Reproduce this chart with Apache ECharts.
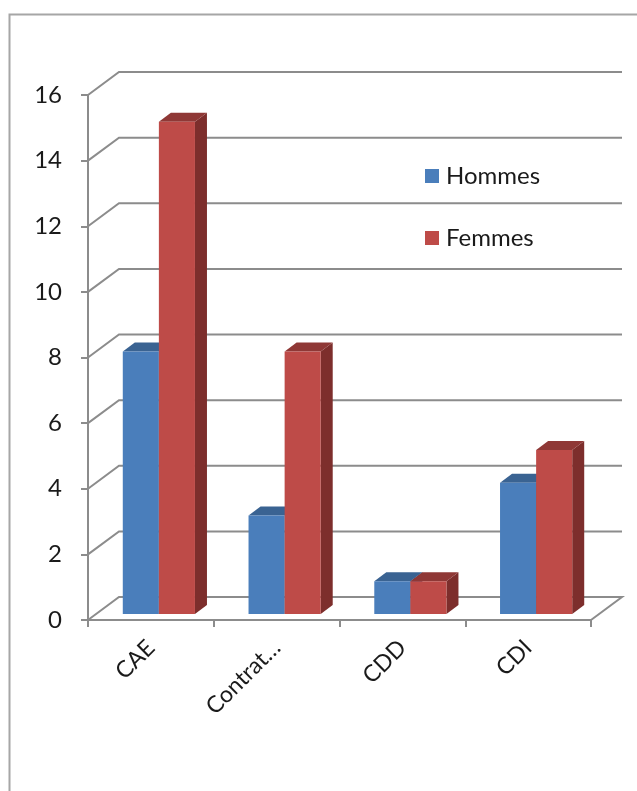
<!DOCTYPE html>
<html><head><meta charset="utf-8">
<script src="https://cdn.jsdelivr.net/npm/echarts@6/dist/echarts.min.js"></script>
<style>html,body{margin:0;padding:0;background:#fff}#c{width:637px;height:791px}</style>
</head><body><div id="c"></div>
<script>
const categories = ['CAE', 'Contrat…', 'CDD', 'CDI'];
const hommes = [8, 3, 1, 4];
const femmes = [15, 8, 1, 5];
const yTicks = [0, 2, 4, 6, 8, 10, 12, 14, 16];
const seriesNames = ['Hommes', 'Femmes'];

const DEPTH_X = 31, DEPTH_Y = 23;
const BAR_SHIFT_X = 8, BAR_SHIFT_Y = 6;
const BAR_DX = 12, BAR_DY = 9;
const GRID_COLOR = '#8c8c8c';
const FONT = 'Lato, "Open Sans", sans-serif';
const COLORS = [
  {front: '#4A7EBB', top: '#3A6392', side: '#2D4F77'},
  {front: '#BE4B48', top: '#8F3836', side: '#7D2E2C'}
];

function wallsRender(params, api) {
  const cs = params.coordSys;
  const v = api.value(1);
  const y = api.coord([0, v])[1];
  const x0 = cs.x, x1 = cs.x + cs.width;
  const pts = [[x0, y], [x0 + DEPTH_X, y - DEPTH_Y], [x1 + DEPTH_X, y - DEPTH_Y]];
  if (v === 0) pts.push([x1, y]);
  return {type: 'polyline', shape: {points: pts}, style: {stroke: GRID_COLOR, lineWidth: 2, fill: null}};
}

function barRender(side) {
  const c = COLORS[side];
  return function (params, api) {
    const i = api.value(0), v = api.value(1);
    const base = api.coord([i, 0]);
    const top = api.coord([i, v]);
    const bw = api.size([1, 0])[0] * 0.287;
    const cx = base[0] + BAR_SHIFT_X;
    const xl = side === 0 ? cx - bw : cx;
    const xr = xl + bw;
    const yb = base[1] - BAR_SHIFT_Y, yt = top[1] - BAR_SHIFT_Y;
    return {type: 'group', children: [
      {type: 'polygon', shape: {points: [[xr, yb], [xr + BAR_DX, yb - BAR_DY], [xr + BAR_DX, yt - BAR_DY], [xr, yt]]}, style: {fill: c.side}},
      {type: 'polygon', shape: {points: [[xl, yt], [xl + BAR_DX, yt - BAR_DY], [xr + BAR_DX, yt - BAR_DY], [xr, yt]]}, style: {fill: c.top}},
      {type: 'rect', shape: {x: xl, y: yt, width: bw, height: yb - yt}, style: {fill: c.front}}
    ]};
  };
}

const chart = echarts.init(document.getElementById('c'), null, {renderer: 'canvas'});
chart.setOption({
  animation: false,
  backgroundColor: '#fff',
  graphic: [{type: 'rect', left: 7, top: 12, shape: {width: 700, height: 900}, style: {fill: null, stroke: '#a6a6a6', lineWidth: 2}, z: -10}],
  grid: {left: 88, right: 46, top: 95, bottom: 171},
  legend: {
    orient: 'vertical', left: 420, top: 159, itemWidth: 14, itemHeight: 14, itemGap: 38,
    icon: 'rect', data: seriesNames,
    textStyle: {fontFamily: FONT, fontSize: 24, color: '#1a1a1a', padding: [0, 0, 0, 2]}
  },
  xAxis: {
    type: 'category', data: categories,
    axisLine: {lineStyle: {color: GRID_COLOR, width: 2}},
    axisTick: {show: true, length: 7, lineStyle: {color: GRID_COLOR, width: 2}},
    axisLabel: {rotate: 45, margin: 24, fontFamily: FONT, fontSize: 23, color: '#1a1a1a', interval: 0}
  },
  yAxis: {
    type: 'value', min: 0, max: 16, interval: 2,
    axisLine: {show: true, lineStyle: {color: GRID_COLOR, width: 2}},
    axisTick: {show: true, length: 7, lineStyle: {color: GRID_COLOR, width: 2}},
    splitLine: {show: false},
    axisLabel: {margin: 26, fontFamily: FONT, fontSize: 24, color: '#1a1a1a'}
  },
  series: [
    {type: 'custom', name: 'walls', renderItem: wallsRender, data: yTicks.map(v => [0, v]), z: 1, silent: true},
    {type: 'custom', name: seriesNames[0], renderItem: barRender(0), itemStyle: {color: COLORS[0].front}, data: hommes.map((v, i) => [i, v]), z: 2},
    {type: 'custom', name: seriesNames[1], renderItem: barRender(1), itemStyle: {color: COLORS[1].front}, data: femmes.map((v, i) => [i, v]), z: 3}
  ]
});
</script></body></html>
